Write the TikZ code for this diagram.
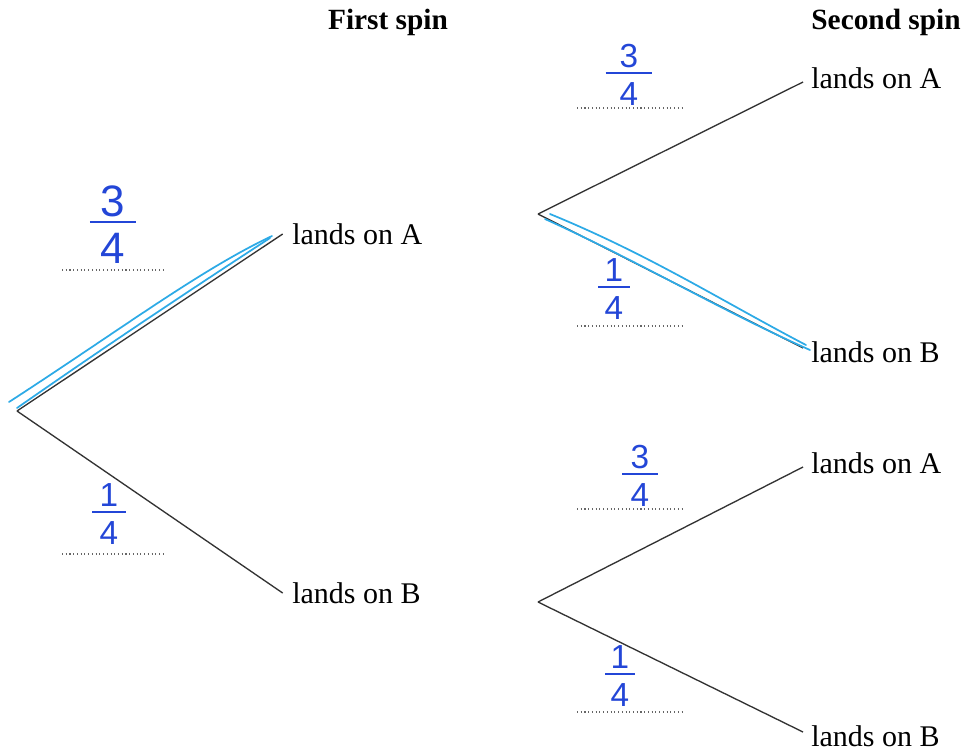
\documentclass[tikz,border=0pt]{standalone}
\usepackage{amsmath}
\usepackage{fontspec}
\setmainfont{Liberation Serif}
\newfontfamily\handfont{Liberation Sans}
\usepackage{tikz}

\definecolor{tinta}{RGB}{35,70,215}
\definecolor{marca}{RGB}{45,170,230}

% fracao escrita a mao: numerador, denominador, largura do traco
\newcommand{\fracao}[3]{$\genfrac{}{}{1.6pt}{1}{\makebox[#3]{#1}}{\rule{0pt}{0.88em}\makebox[#3]{#2}}$}

\begin{document}
\begin{tikzpicture}[
        x=0.75pt, y=-0.75pt,
        ramo/.style={draw=black!80, line width=1pt},
        folha/.style={anchor=west, inner sep=0pt, font=\fontsize{22.5}{26}\selectfont},
        titulo/.style={font=\fontsize{22}{26}\selectfont\bfseries},
        resposta/.style={dotted, black!60, line width=0.8pt},
        mao/.style={text=tinta, anchor=base, inner sep=0pt, font=\handfont\fontsize{25}{28}\selectfont},
        risco/.style={draw=marca, line width=1.3pt, line cap=round}
    ]

        \useasboundingbox (0,0) rectangle (966,751);

        % ==================================================
        % TITULOS
        % ==================================================

        \node[titulo] (t1) at (388,22) {First spin};
        \node[titulo] (t2) at (886,22) {Second spin};

        % ==================================================
        % PRIMEIRO GIRO
        % ==================================================

        \coordinate (r0) at (17,411);
        \node[folha] (a1) at (292,234) {lands on A};
        \node[folha] (b1) at (292,593) {lands on B};

        \draw[ramo] (r0) -- ([xshift=-7pt]a1.west);
        \draw[ramo] (r0) -- ([xshift=-7pt]b1.west);

        % ==================================================
        % SEGUNDO GIRO
        % ==================================================

        \coordinate (r1) at (538,214);
        \coordinate (r2) at (538,602);

        \node[folha] (a2) at (811,78) {lands on A};
        \node[folha] (b2) at (811,352) {lands on B};
        \node[folha] (a3) at (811,463) {lands on A};
        \node[folha] (b3) at (811,736) {lands on B};

        \draw[ramo] (r1) -- ([xshift=-6pt,yshift=-3pt]a2.west);
        \draw[ramo] (r1) -- ([xshift=-6pt,yshift=3pt]b2.west);
        \draw[ramo] (r2) -- ([xshift=-6pt,yshift=-3pt]a3.west);
        \draw[ramo] (r2) -- ([xshift=-6pt,yshift=3pt]b3.west);

        % Linhas de resposta
        \draw[resposta] (62,270) -- (165,270);
        \draw[resposta] (62,554) -- (165,554);
        \draw[resposta] (577,108) -- (684,108);
        \draw[resposta] (577,326) -- (684,326);
        \draw[resposta] (577,509) -- (684,509);
        \draw[resposta] (577,712) -- (684,712);

        % ==================================================
        % RESPOSTAS (tinta azul)
        % ==================================================

        \node[mao, font=\handfont\fontsize{33}{36}\selectfont] (p1) at (113,230) {\fracao{3}{4}{1.05em}};
        \node[mao] (q1) at (109,520) {\fracao{1}{4}{1em}};
        \node[mao] (p2) at (629,81) {\fracao{3}{4}{1.4em}};
        \node[mao] (q2) at (614,295) {\fracao{1}{4}{0.96em}};
        \node[mao] (p3) at (640,482) {\fracao{3}{4}{1.08em}};
        \node[mao] (q3) at (620,682) {\fracao{1}{4}{0.9em}};

        % Marcas sobre os ramos escolhidos
        \draw[risco] (9,402) .. controls (120,330) and (200,270) .. (272,236);
        \draw[risco] (17,408) .. controls (100,350) and (190,290) .. (270,238);
        \draw[risco] (550,214) .. controls (650,255) and (720,300) .. (806,345);
        \draw[risco] (545,219) .. controls (640,262) and (720,310) .. (810,350);
    \end{tikzpicture}
\end{document}
